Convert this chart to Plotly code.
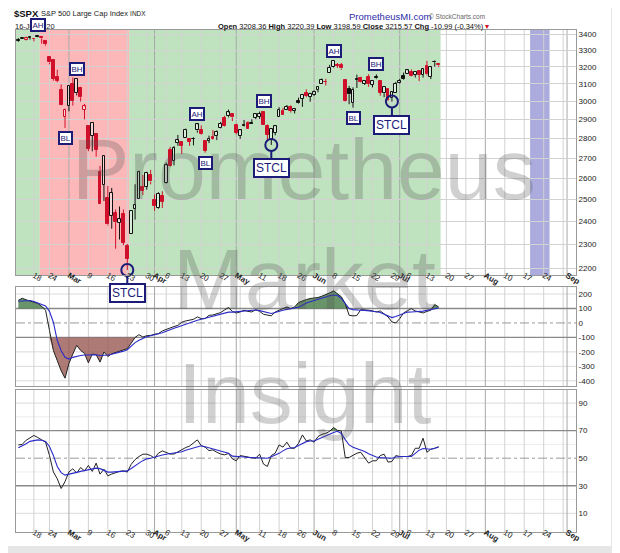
import math
import pandas as pd
import plotly.graph_objects as go

# ---------------- data ----------------
dates = [
 "2020-02-11","2020-02-12","2020-02-13","2020-02-14","2020-02-18","2020-02-19","2020-02-20","2020-02-21",
 "2020-02-24","2020-02-25","2020-02-26","2020-02-27","2020-02-28",
 "2020-03-02","2020-03-03","2020-03-04","2020-03-05","2020-03-06","2020-03-09","2020-03-10","2020-03-11",
 "2020-03-12","2020-03-13","2020-03-16","2020-03-17","2020-03-18","2020-03-19","2020-03-20","2020-03-23",
 "2020-03-24","2020-03-25","2020-03-26","2020-03-27","2020-03-30","2020-03-31",
 "2020-04-01","2020-04-02","2020-04-03","2020-04-06","2020-04-07","2020-04-08","2020-04-09","2020-04-13",
 "2020-04-14","2020-04-15","2020-04-16","2020-04-17","2020-04-20","2020-04-21","2020-04-22","2020-04-23",
 "2020-04-24","2020-04-27","2020-04-28","2020-04-29","2020-04-30",
 "2020-05-01","2020-05-04","2020-05-05","2020-05-06","2020-05-07","2020-05-08","2020-05-11","2020-05-12",
 "2020-05-13","2020-05-14","2020-05-15","2020-05-18","2020-05-19","2020-05-20","2020-05-21","2020-05-22",
 "2020-05-26","2020-05-27","2020-05-28","2020-05-29",
 "2020-06-01","2020-06-02","2020-06-03","2020-06-04","2020-06-05","2020-06-08","2020-06-09","2020-06-10",
 "2020-06-11","2020-06-12","2020-06-15","2020-06-16","2020-06-17","2020-06-18","2020-06-19","2020-06-22",
 "2020-06-23","2020-06-24","2020-06-25","2020-06-26","2020-06-29","2020-06-30",
 "2020-07-01","2020-07-02","2020-07-06","2020-07-07","2020-07-08","2020-07-09","2020-07-10","2020-07-13",
 "2020-07-14","2020-07-15","2020-07-16"]

opens = [3365.87,3370.50,3365.90,3378.08,3369.04,3380.39,3380.45,3360.50,3257.61,3238.94,3139.90,3062.54,2916.90,
 2974.28,3096.46,3045.75,3075.70,2954.20,2863.89,2813.48,2825.60,2630.86,2569.99,2508.59,2425.66,2436.50,2393.48,2431.94,2290.71,2344.44,2457.77,2501.29,2555.87,2558.98,2614.69,
 2498.08,2458.54,2514.92,2578.28,2738.65,2685.00,2776.99,2782.46,2805.10,2795.64,2799.34,2842.43,2845.62,2784.81,2787.89,2810.42,2812.64,2854.65,2909.96,2918.46,2930.91,
 2869.09,2815.01,2868.88,2883.14,2878.26,2908.83,2915.46,2939.50,2865.86,2794.54,2829.95,2913.86,2948.59,2953.63,2969.95,2948.05,3004.08,3015.65,3046.61,3025.17,
 3038.78,3064.78,3098.90,3111.56,3163.84,3199.92,3213.32,3213.42,3123.53,3071.04,2993.76,3131.00,3136.13,3101.64,3140.29,3094.42,3138.70,3114.40,3046.60,3073.20,3018.59,3050.20,
 3105.92,3143.64,3155.29,3166.44,3153.07,3176.17,3152.47,3205.08,3141.11,3225.98,3208.36]
highs = [3375.63,3381.47,3385.09,3380.69,3375.01,3393.52,3385.83,3360.76,3259.81,3246.99,3182.51,3097.07,2959.72,
 3090.96,3136.72,3130.97,3083.04,2985.93,2863.89,2882.59,2825.60,2660.95,2711.33,2562.98,2553.93,2453.57,2466.97,2453.01,2300.73,2449.71,2571.42,2637.01,2615.91,2631.80,2641.39,
 2522.75,2533.22,2538.18,2676.85,2756.89,2760.75,2818.57,2782.46,2851.85,2801.88,2806.51,2879.22,2868.98,2785.54,2815.10,2844.90,2842.71,2887.72,2921.15,2954.86,2930.91,
 2869.09,2844.24,2898.23,2891.11,2901.92,2932.16,2944.25,2945.82,2874.14,2852.80,2865.01,2968.09,2964.21,2980.29,2978.50,2956.76,3021.72,3036.25,3068.67,3049.17,
 3062.18,3081.07,3130.94,3128.91,3211.72,3233.13,3222.71,3223.27,3123.53,3088.42,3079.76,3153.45,3141.16,3120.00,3155.53,3120.92,3154.90,3115.01,3086.25,3073.73,3053.89,3111.51,
 3128.44,3165.81,3182.59,3184.15,3171.80,3179.78,3186.82,3235.32,3200.95,3238.28,3220.39]
lows = [3352.72,3369.72,3360.52,3366.15,3355.61,3378.83,3341.16,3328.45,3214.65,3118.77,3108.99,2977.39,2855.84,
 2945.19,2976.63,3034.38,2999.83,2901.54,2734.43,2734.00,2707.22,2478.86,2492.37,2380.94,2367.04,2280.52,2319.78,2295.56,2191.86,2344.44,2407.53,2500.72,2520.02,2545.28,2571.15,
 2447.49,2455.79,2459.96,2574.57,2657.67,2663.30,2762.36,2721.17,2805.10,2761.54,2764.32,2830.88,2820.43,2727.10,2775.95,2794.26,2791.76,2852.89,2860.71,2912.16,2892.47,
 2821.61,2797.85,2863.55,2847.65,2876.48,2902.88,2903.44,2869.59,2793.15,2766.64,2816.78,2913.86,2922.35,2953.63,2938.57,2933.59,2988.17,2969.75,3023.40,2998.61,
 3031.54,3051.64,3098.90,3090.41,3163.84,3196.00,3193.11,3181.49,2999.49,2984.47,2965.66,3076.06,3108.03,3093.51,3083.11,3079.39,3127.12,3032.13,3024.01,3004.63,2999.74,3047.83,
 3101.17,3124.52,3155.29,3142.93,3136.53,3115.70,3136.22,3149.43,3127.66,3200.76,3198.59]
closes = [3357.75,3379.45,3373.94,3380.16,3370.29,3386.15,3373.23,3337.75,3225.89,3128.21,3116.39,2978.76,2954.22,
 3090.23,3003.37,3130.12,3023.94,2972.37,2746.56,2882.23,2741.38,2480.64,2711.02,2386.13,2529.19,2398.10,2409.39,2304.92,2237.40,2447.33,2475.56,2630.07,2541.47,2626.65,2584.59,
 2470.50,2526.90,2488.65,2663.68,2659.41,2749.98,2789.82,2761.63,2846.06,2783.36,2799.55,2874.56,2823.16,2736.56,2799.31,2797.80,2836.74,2878.48,2863.39,2939.51,2912.43,
 2830.71,2842.74,2868.44,2848.42,2881.19,2929.80,2930.32,2870.12,2820.00,2852.50,2863.70,2953.91,2922.94,2971.61,2948.51,2955.45,2991.77,3036.13,3029.73,3044.31,
 3055.73,3080.82,3122.87,3112.35,3193.93,3232.39,3207.18,3190.14,3002.10,3041.31,3066.59,3124.74,3113.49,3115.34,3097.74,3117.86,3131.29,3050.33,3083.76,3009.05,3053.24,3100.29,
 3115.86,3130.01,3179.72,3145.32,3169.94,3152.05,3185.04,3155.22,3197.52,3226.56,3215.57]

cci = [157,171,160,153,146,135,115,88,-51,-190,-260,-330,-382,
 -280,-215,-155,-190,-210,-276,-215,-220,-271,-201,-232,-213,-205,-195,-185,-178,-140,-100,-81,-97,-88,-86,
 -78,-74,-55,-45,-30,-25,-17,5,14,18,25,42,30,30,53,55,65,72,90,106,80,
 69,76,88,80,76,92,80,60,53,49,76,88,100,111,99,111,141,153,162,169,
 170,176,185,195,208,222,203,181,134,53,49,51,92,92,88,83,76,83,60,42,7,0,
 30,69,85,99,83,75,69,80,88,127,111]
cci_ma = [150,152,155,155,148,138,128,118,80,5,-121,-192,-238,
 -250,-238,-230,-225,-222,-220,-218,-220,-225,-225,-222,-216,-210,-203,-195,-185,-160,-136,-120,-106,-96,-88,
 -82,-76,-68,-58,-50,-37,-28,-18,-8,2,11,19,26,33,41,49,55,61,68,75,75,
 78,82,85,87,89,90,85,77,70,65,72,82,88,94,100,104,108,122,138,146,
 155,160,170,178,188,193,190,170,135,100,92,88,88,87,85,82,78,72,60,45,37,45,
 56,65,75,76,77,80,82,87,92,99,104]
rsi = [59.6,60,63,65,66.5,65,63.3,61.6,52,40,35,28,33,
 40,42.3,39.2,43.2,40.8,44.7,40.4,46.4,38.4,42,37.2,38.5,39.5,40.4,40.8,39.9,45.5,49,51.2,52.9,52.9,51.9,
 50,53.6,55.3,54.3,53,53,54.5,56.5,57.7,58.8,60.8,63.3,59,58,55.5,56,54.3,53,52.4,53.5,49.5,
 48.1,51.9,51.2,50.8,50.3,50,52.9,45.7,44,51.9,53.6,59.6,58,61.6,57.2,57.2,60.8,66.9,62.5,63.3,
 61.6,65.7,67.3,68,69.5,72.2,70.2,69.8,50.5,50.5,52,53.6,54.3,50.5,46.4,48.1,48.1,51.9,52.9,47.1,47.6,51.9,
 51.2,51.2,51.2,52,57.2,57.2,64.5,54.3,56.5,57.2,58.4]
rsi_ma = [57.5,58.8,60.5,62.2,63,63.3,63,62.2,58.5,52,44,39.5,37.7,
 38.2,39,39.7,40.4,41.1,41.9,42.6,42.8,42.4,41,39.9,39.9,40.2,40.7,40.8,40.8,42.5,44.8,46.4,48.2,49.5,50,
 50.9,51.6,52.3,52.9,53.3,53.6,54,54.6,55.7,56.5,57.7,58.5,59,58.3,57.5,56.5,55.6,54.7,54,53.6,51.5,
 51.1,51,50.8,50.6,50.5,50.5,50.6,50.5,50,51,52.2,53.5,55.3,56.8,57.4,57.7,59.2,60.6,62,62.5,
 62.5,63.7,65,66.2,67.3,68.6,69.5,68,63.5,59.6,58,57,56,54.8,53.2,51.8,50.9,50.4,50.1,50,50,50.8,
 51.2,51.2,51.2,51.2,53.5,55.8,57,57,56.5,57.2,58]

price_ticks = [2200, 2300, 2400, 2500, 2600, 2700, 2800, 2900, 3000, 3100, 3200, 3300, 3400]
cci_ticks = [-400, -300, -200, -100, 0, 100, 200]
rsi_ticks = [10, 30, 50, 70, 90]
rsi_minor = [20, 40, 60, 80]

shade_periods = [("2020-02-11", "2020-02-19", "rgba(150,210,150,0.62)"),
                 ("2020-02-20", "2020-03-23", "rgba(250,150,150,0.68)"),
                 ("2020-03-24", "2020-07-16", "rgba(150,210,150,0.62)"),
                 ("2020-08-19", "2020-08-25", "rgba(120,120,200,0.62)")]

pattern_labels = [("AH", "2020-02-19", "high"), ("BL", "2020-02-28", "low"), ("BH", "2020-03-04", "high"),
                  ("STCL", "2020-03-23", "low"), ("AH", "2020-04-17", "high"), ("BL", "2020-04-21", "low"),
                  ("BH", "2020-05-12", "high"), ("STCL", "2020-05-14", "low"), ("AH", "2020-06-08", "high"),
                  ("BL", "2020-06-15", "low"), ("BH", "2020-06-23", "high"), ("STCL", "2020-06-29", "low")]

n = len(dates)
assert all(len(a) == n for a in [opens, highs, lows, closes, cci, cci_ma, rsi, rsi_ma])

# ---------------- trading calendar for axis ----------------
holidays = {"2020-02-17", "2020-04-10", "2020-05-25", "2020-07-03", "2020-09-07"}
cal = [d for d in pd.bdate_range("2020-02-10", "2020-09-08") if d.strftime("%Y-%m-%d") not in holidays]
pos = {d.strftime("%Y-%m-%d"): i for i, d in enumerate(cal)}
xs = [pos[d] for d in dates]

month_pos, week_pos = [], []
for i in range(1, len(cal)):
    d, p = cal[i], cal[i - 1]
    if d.month != p.month:
        month_pos.append(i)
    if d.isocalendar()[1] != p.isocalendar()[1]:
        week_pos.append(i)
tickvals = sorted(set(month_pos + week_pos))
ticktext = []
for t in tickvals:
    d = cal[t]
    if t in month_pos:
        ticktext.append("<b>" + d.strftime("%b") + "</b>")
    elif any(abs(t - m) <= 1 for m in month_pos):
        ticktext.append("")
    else:
        ticktext.append(str(d.day))

X_RANGE = [0.4, 144.3]
FONT = "Liberation Sans, Arial, sans-serif"
NAVY = "#1c1c78"
RED = "#d0102a"
BLACK = "#111111"
HOLLOW = "rgba(255,255,255,0.4)"

def px(xp):
    return (xp - 16) / 560.0

def py(yp):
    return (532 - yp) / 502.0

# ---------------- figure ----------------
fig = go.Figure()

# candles: colour by close vs previous close, hollow when close > open
prev = [None] + closes[:-1]
line_cols = [BLACK if (prev[i] is None or closes[i] >= prev[i]) else RED for i in range(n)]
fill_cols = [HOLLOW if closes[i] > opens[i] else line_cols[i] for i in range(n)]
body_lo = [min(opens[i], closes[i]) for i in range(n)]
body_hi = [max(opens[i], closes[i]) for i in range(n)]

for col in [BLACK, RED]:
    wx, wy = [], []
    for i in range(n):
        if line_cols[i] != col:
            continue
        wx += [xs[i], xs[i], None, xs[i], xs[i], None]
        wy += [highs[i], body_hi[i], None, body_lo[i], lows[i], None]
    fig.add_trace(go.Scatter(x=wx, y=wy, mode="lines", line=dict(color=col, width=1), xaxis="x", yaxis="y",
                             showlegend=False, hoverinfo="skip"))
fig.add_trace(go.Bar(x=xs, y=[body_hi[i] - body_lo[i] for i in range(n)], base=body_lo, width=0.72,
                     marker=dict(color=fill_cols, line=dict(color=line_cols, width=1)),
                     xaxis="x", yaxis="y", showlegend=False, hoverinfo="skip"))

stcl = [d for t, d, a in pattern_labels if t == "STCL"]
fig.add_trace(go.Scatter(x=[pos[d] for d in stcl], y=[lows[dates.index(d)] for d in stcl],
                         mode="markers", marker=dict(symbol="circle-open", size=12, color=NAVY, line=dict(width=2, color=NAVY)),
                         xaxis="x", yaxis="y", showlegend=False, hoverinfo="skip", cliponaxis=False))

def add_line(y, color, width, xa, ya, fill=None, fillcolor=None):
    fig.add_trace(go.Scatter(x=xs, y=y, mode="lines", line=dict(color=color, width=width), fill=fill,
                             fillcolor=fillcolor, xaxis=xa, yaxis=ya, showlegend=False, hoverinfo="skip"))

add_line([100] * n, "rgba(0,0,0,0)", 0, "x2", "y2")
add_line([max(v, 100) for v in cci], "rgba(0,0,0,0)", 0, "x2", "y2", "tonexty", "rgba(80,130,80,0.85)")
add_line([-100] * n, "rgba(0,0,0,0)", 0, "x2", "y2")
add_line([min(v, -100) for v in cci], "rgba(0,0,0,0)", 0, "x2", "y2", "tonexty", "rgba(150,85,80,0.78)")
add_line(cci, "#222222", 1, "x2", "y2")
add_line(cci_ma, "#2a2ac8", 1.1, "x2", "y2")

add_line([70] * n, "rgba(0,0,0,0)", 0, "x3", "y3")
add_line([max(v, 70) for v in rsi], "rgba(0,0,0,0)", 0, "x3", "y3", "tonexty", "rgba(80,130,80,0.85)")
add_line(rsi, "#222222", 1, "x3", "y3")
add_line(rsi_ma, "#2a2ac8", 1.1, "x3", "y3")

# ---------------- shapes ----------------
shapes = []
for s, e, col in shade_periods:
    x0 = pos[s] - 0.5 if s != dates[0] else X_RANGE[0]
    shapes.append(dict(type="rect", xref="x", yref="y domain", x0=x0, x1=pos[e] + 0.5, y0=0, y1=1,
                       fillcolor=col, line=dict(width=0), layer="below"))
for v in cci_ticks:
    if v not in (100, 0, -100):
        shapes.append(dict(type="line", xref="x2 domain", yref="y2", x0=0, x1=1, y0=v, y1=v,
                           line=dict(color="#dadada", width=1), layer="below"))
for v in rsi_ticks + rsi_minor:
    if v not in (70, 50, 30):
        shapes.append(dict(type="line", xref="x3 domain", yref="y3", x0=0, x1=1, y0=v, y1=v,
                           line=dict(color="#dadada" if v in rsi_ticks else "#ececec", width=1), layer="below"))
for w in week_pos:
    if w in month_pos:
        continue
    for ax in ["y", "y2", "y3"]:
        shapes.append(dict(type="line", xref="x", yref=ax + " domain", x0=w, x1=w, y0=0, y1=1,
                           line=dict(color="#d2d2d2", width=1), layer="below"))
for m in month_pos:
    for ax in ["y", "y2", "y3"]:
        shapes.append(dict(type="line", xref="x", yref=ax + " domain", x0=m, x1=m, y0=0, y1=1,
                           line=dict(color="#a8a8a8", width=1), layer="below"))
for yv, dash in [(100, "solid"), (0, "dashdot"), (-100, "solid")]:
    shapes.append(dict(type="line", xref="x2 domain", yref="y2", x0=0, x1=1, y0=yv, y1=yv,
                       line=dict(color="#8a8a8a" if dash == "solid" else "#9a9a9a",
                                 width=1.4 if dash == "solid" else 1, dash=dash), layer="below"))
for yv, dash in [(70, "solid"), (50, "dashdot"), (30, "solid")]:
    shapes.append(dict(type="line", xref="x3 domain", yref="y3", x0=0, x1=1, y0=yv, y1=yv,
                       line=dict(color="#8a8a8a" if dash == "solid" else "#9a9a9a",
                                 width=1.4 if dash == "solid" else 1, dash=dash), layer="below"))
for x0, x1, y0, y1 in [(611, 640, -20, 580), (-20, 640, 546, 580), (-20, 640, -20, 2.5)]:
    shapes.append(dict(type="rect", xref="paper", yref="paper", x0=px(x0), x1=px(x1), y0=py(y1), y1=py(y0),
                       fillcolor="#e6e6e6", line=dict(width=0), layer="below"))

# ---------------- annotations ----------------
ann = []
for txt, yc in [("Prometheus", 169), ("Market", 279), ("Insight", 393)]:
    ann.append(dict(text=txt, xref="paper", yref="paper", x=px(304), y=py(yc), showarrow=False,
                    font=dict(family=FONT, size=86, color="rgba(80,80,80,0.27)"), xanchor="center", yanchor="middle"))

ann.append(dict(text="<b>$SPX</b>", xref="paper", yref="paper", x=px(12), y=py(13), xanchor="left", yanchor="middle",
                showarrow=False, font=dict(family=FONT, size=9.5, color="#111")))
ann.append(dict(text="S&P 500 Large Cap Index <span style='font-size:6.5px'>INDX</span>", xref="paper", yref="paper",
                x=px(39), y=py(13.5), xanchor="left", yanchor="middle", showarrow=False,
                font=dict(family=FONT, size=7.5, color="#222")))
ann.append(dict(text="16-Jul-2020", xref="paper", yref="paper", x=px(13), y=py(26.5), xanchor="left", yanchor="middle",
                showarrow=False, font=dict(family=FONT, size=7.5, color="#222")))
ann.append(dict(text="PrometheusMI.com", xref="paper", yref="paper", x=px(347), y=py(16), xanchor="left",
                yanchor="middle", showarrow=False, font=dict(family=FONT, size=9.5, color="#2b2ba8")))
ann.append(dict(text="© StockCharts.com", xref="paper", yref="paper", x=px(427), y=py(16), xanchor="left",
                yanchor="middle", showarrow=False, font=dict(family=FONT, size=6.5, color="#666")))
ohlc = ("<b>Open</b> 3208.36 <b>High</b> 3220.39 <b>Low</b> 3198.59 <b>Close</b> 3215.57 "
        "<b>Chg</b> -10.99 (-0.34%) <span style='color:#d0102a'>▾</span>")
ann.append(dict(text=ohlc, xref="paper", yref="paper", x=px(491), y=py(26), xanchor="right", yanchor="middle",
                showarrow=False, font=dict(family=FONT, size=7.5, color="#111")))

for txt, d, a in pattern_labels:
    i = dates.index(d)
    if txt == "STCL":
        ann.append(dict(text=txt, x=pos[d], y=math.log10(lows[i]), xref="x", yref="y", showarrow=True,
                        ax=0, ay=23, arrowhead=0, arrowwidth=2, arrowcolor=NAVY, standoff=6,
                        font=dict(family=FONT, size=12, color=NAVY), bgcolor="white", bordercolor=NAVY,
                        borderwidth=2, borderpad=1))
    else:
        yv = highs[i] if a == "high" else lows[i]
        ann.append(dict(text=txt, x=pos[d], y=math.log10(yv), xref="x", yref="y", showarrow=False,
                        yshift=10 if a == "high" else -10,
                        font=dict(family=FONT, size=8, color=NAVY), bgcolor="white", bordercolor=NAVY,
                        borderwidth=2, borderpad=0.5))

axis_common = dict(showline=True, mirror=True, linecolor="#9a9a9a", linewidth=1, zeroline=False, ticks="",
                   tickfont=dict(family=FONT, size=8, color="#222"))
xcommon = dict(axis_common, range=X_RANGE, tickmode="array", tickvals=tickvals, ticktext=ticktext, showgrid=False,
               ticklabelstandoff=-8)

fig.update_layout(
    width=620, height=553, margin=dict(l=8, r=52, t=22, b=29),
    paper_bgcolor="white", plot_bgcolor="white", showlegend=False, barmode="overlay", bargap=0,
    font=dict(family=FONT),
    xaxis=dict(xcommon, anchor="y", domain=[0, 1]),
    xaxis2=dict(xcommon, anchor="y2", matches="x", showticklabels=False),
    xaxis3=dict(xcommon, anchor="y3", matches="x"),
    yaxis=dict(axis_common, domain=[py(275), 1.0], type="log", side="right",
               range=[math.log10(2171.5), math.log10(3427)], tickmode="array",
               tickvals=price_ticks, ticktext=[str(v) for v in price_ticks], showgrid=True, gridcolor="#d2d2d2"),
    yaxis2=dict(axis_common, domain=[py(386), py(287)], side="right", range=[-436, 248.6], tickmode="array",
                tickvals=cci_ticks, ticktext=[str(v) for v in cci_ticks], showgrid=False),
    yaxis3=dict(axis_common, domain=[0, py(390)], side="right", range=[-3.6, 99.5], tickmode="array",
                tickvals=rsi_ticks, ticktext=[str(v) for v in rsi_ticks], showgrid=False),
    shapes=shapes, annotations=ann,
)

fig.write_html("out.html")
